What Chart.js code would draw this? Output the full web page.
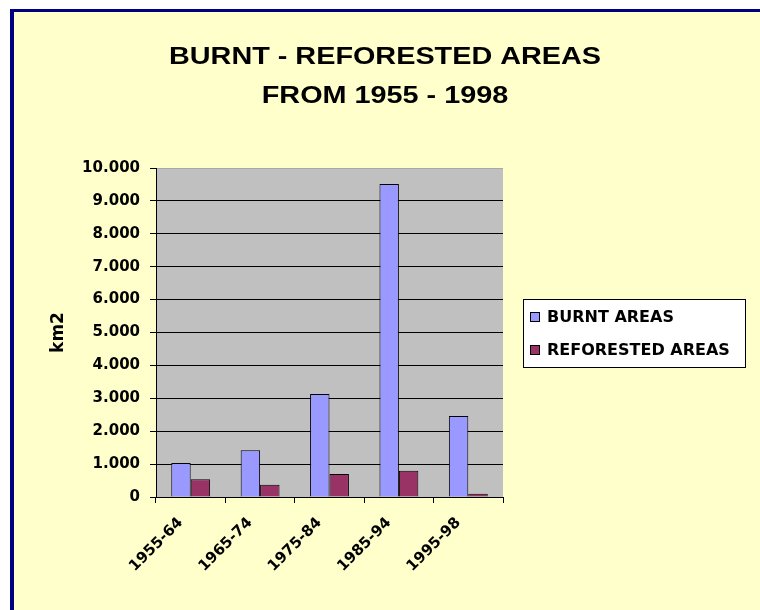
<!DOCTYPE html>
<html>
<head>
<meta charset="utf-8">
<script src="https://cdn.jsdelivr.net/npm/chart.js@4.4.1/dist/chart.umd.min.js"></script>
<style>
    body { margin: 0; background: #ffffff; }
    #frame {
        position: absolute; left: 10px; top: 9px; width: 760px; height: 610px;
        background: #ffffcc;
        border-left: 4px solid #000080;
        border-top: 3px solid #000080;
    }
    #areaChart { position: absolute; left: 0; top: 0; }
</style>
</head>
<body>
<div id="frame"></div>
<canvas id="areaChart" width="760" height="610"></canvas>
<script>
const periods = ["1955-64", "1965-74", "1975-84", "1985-94", "1995-98"];
const burntAreas = [1030, 1420, 3130, 9510, 2460];
const reforestedAreas = [540, 370, 700, 800, 100];
const yTickLabels = ["0", "1.000", "2.000", "3.000", "4.000", "5.000", "6.000", "7.000", "8.000", "9.000", "10.000"];
const titleLines = ["BURNT - REFORESTED AREAS", "FROM 1955 - 1998"];

document.addEventListener("DOMContentLoaded", function () {
    const boldFont = { family: "DejaVu Sans", weight: "bold", size: 15 };

    // gray plot background
    const plotBackground = {
        id: "plotBackground",
        beforeDraw(chart) {
            const { ctx, chartArea } = chart;
            ctx.save();
            ctx.fillStyle = "#c0c0c0";
            ctx.fillRect(chartArea.left, chartArea.top, chartArea.right - chartArea.left, chartArea.bottom - chartArea.top);
            ctx.restore();
        }
    };

    // stretched title, like the old excel picture
    const wideTitle = {
        id: "wideTitle",
        afterDraw(chart) {
            const ctx = chart.ctx;
            ctx.save();
            ctx.fillStyle = "#000";
            ctx.font = "bold 24px 'Liberation Sans', Arial, sans-serif";
            ctx.textAlign = "center";
            ctx.textBaseline = "alphabetic";
            ctx.translate(385, 0);
            ctx.scale(1.2, 1);
            ctx.fillText(titleLines[0], 0, 64);
            ctx.fillText(titleLines[1], 0, 103);
            ctx.restore();
        }
    };

    // legend box on the right
    const boxLegend = {
        id: "boxLegend",
        afterDraw(chart) {
            const ctx = chart.ctx;
            ctx.save();
            ctx.fillStyle = "#ffffff";
            ctx.strokeStyle = "#000";
            ctx.lineWidth = 1;
            ctx.fillRect(523.5, 299.5, 222, 68);
            ctx.strokeRect(523.5, 299.5, 222, 68);
            ctx.font = "bold 16px 'DejaVu Sans', sans-serif";
            ctx.textBaseline = "middle";
            chart.data.datasets.forEach((ds, i) => {
                const cy = 317 + i * 33;
                ctx.fillStyle = ds.backgroundColor;
                ctx.fillRect(530.5, cy - 4.5, 9, 9);
                ctx.strokeRect(530.5, cy - 4.5, 9, 9);
                ctx.fillStyle = "#000";
                ctx.fillText(ds.label, 547, cy + 1);
            });
            ctx.restore();
        }
    };

    const ctx = document.getElementById("areaChart").getContext("2d");
    new Chart(ctx, {
        type: "bar",
        data: {
            labels: periods,
            datasets: [
                {
                    label: "BURNT AREAS",
                    data: burntAreas,
                    backgroundColor: "#9999ff",
                    borderColor: "#000",
                    borderWidth: 1
                },
                {
                    label: "REFORESTED AREAS",
                    data: reforestedAreas,
                    backgroundColor: "#993366",
                    borderColor: "#000",
                    borderWidth: 1
                }
            ]
        },
        options: {
            responsive: false,
            animation: false,
            devicePixelRatio: 1,
            barPercentage: 1.0,
            categoryPercentage: 0.56,
            layout: { padding: { left: 48, top: 168, right: 257, bottom: 0 } },
            plugins: {
                legend: { display: false },
                title: { display: false },
                tooltip: { enabled: false }
            },
            scales: {
                x: {
                    offset: true,
                    grid: { offset: true, drawOnChartArea: false, tickLength: 6, color: "#000", tickColor: "#000" },
                    border: { color: "#000", width: 1 },
                    ticks: {
                        color: "#000",
                        font: boldFont,
                        autoSkip: false,
                        minRotation: 45,
                        maxRotation: 45,
                        padding: 11,
                        labelOffset: -10
                    },
                    afterFit(scale) { scale.height = 113; }
                },
                y: {
                    min: 0,
                    max: 10000,
                    grid: {
                        tickLength: 6,
                        tickColor: "#000",
                        color: (c) => (c.tick && c.tick.value === 10000 ? "#a8a8a8" : "#000")
                    },
                    border: { color: "#000", width: 1 },
                    ticks: {
                        stepSize: 1000,
                        color: "#000",
                        font: boldFont,
                        padding: 10,
                        callback: (value, index) => yTickLabels[index]
                    },
                    title: {
                        display: true,
                        text: "km2",
                        color: "#000",
                        font: { family: "DejaVu Sans", weight: "bold", size: 17 },
                        padding: 0
                    },
                    afterFit(scale) { scale.width = 108; }
                }
            }
        },
        plugins: [plotBackground, wideTitle, boxLegend]
    });
});
</script>
</body>
</html>
